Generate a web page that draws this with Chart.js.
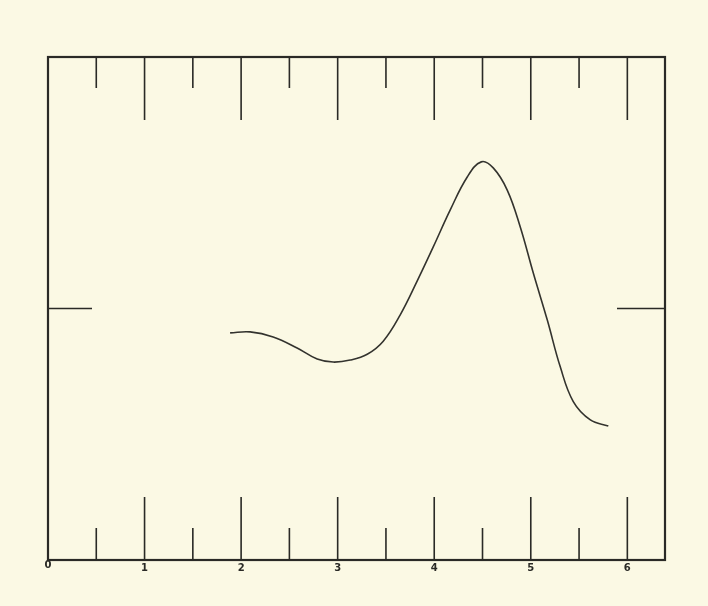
<!DOCTYPE html>
<html>
<head>
<meta charset="utf-8">
<script src="https://cdn.jsdelivr.net/npm/chart.js@4.4.1/dist/chart.umd.min.js"></script>
<style>
    html, body { margin: 0; padding: 0; background: #fbf9e4; }
    #wrap { width: 708px; height: 606px; position: relative; }
</style>
</head>
<body>
<div id="wrap"><canvas id="curveChart" width="708" height="606"></canvas></div>
<script>
// curve (x in axis units, y in half-heights of the box)
const curveX = [1.886, 2.093, 2.332, 2.580, 2.788, 2.953, 3.130, 3.306, 3.472, 3.648, 3.824,
    3.990, 4.166, 4.342, 4.487, 4.611, 4.756, 4.891, 5.026, 5.171, 5.306, 5.440, 5.617, 5.803];
const curveY = [0.903, 0.907, 0.887, 0.843, 0.799, 0.787, 0.795, 0.818, 0.870, 0.975, 1.110,
    1.245, 1.392, 1.523, 1.583, 1.559, 1.471, 1.324, 1.141, 0.954, 0.767, 0.630, 0.557, 0.533];

const xLabels = ['0', '1', '2', '3', '4', '5', '6'];
const xMajorTicks = [1, 2, 3, 4, 5, 6];
const xMinorTicks = [0.5, 1.5, 2.5, 3.5, 4.5, 5.5];
const yMidTicks = [1];

const ink = '#2a2a26';

// box, inward ticks and number labels
const framePlugin = {
    id: 'frame',
    afterDatasetsDraw(chart) {
        const ctx = chart.ctx;
        const area = chart.chartArea;
        const xs = chart.scales.x;
        const ys = chart.scales.y;

        ctx.save();
        ctx.strokeStyle = ink;
        ctx.lineCap = 'butt';

        ctx.lineWidth = 1.6;
        xMajorTicks.forEach(v => {
            const px = xs.getPixelForValue(v);
            ctx.beginPath();
            ctx.moveTo(px, area.top); ctx.lineTo(px, area.top + 63);
            ctx.moveTo(px, area.bottom); ctx.lineTo(px, area.bottom - 63);
            ctx.stroke();
        });
        xMinorTicks.forEach(v => {
            const px = xs.getPixelForValue(v);
            ctx.beginPath();
            ctx.moveTo(px, area.top); ctx.lineTo(px, area.top + 31);
            ctx.moveTo(px, area.bottom); ctx.lineTo(px, area.bottom - 32);
            ctx.stroke();
        });
        yMidTicks.forEach(v => {
            const py = ys.getPixelForValue(v);
            ctx.beginPath();
            ctx.moveTo(area.left, py); ctx.lineTo(area.left + 44, py);
            ctx.moveTo(area.right, py); ctx.lineTo(area.right - 48, py);
            ctx.stroke();
        });

        ctx.lineWidth = 2.2;
        ctx.strokeRect(area.left, area.top, area.right - area.left, area.bottom - area.top);

        ctx.fillStyle = ink;
        ctx.font = 'bold 10px "DejaVu Sans"';
        ctx.textAlign = 'center';
        ctx.textBaseline = 'middle';
        xLabels.forEach((lab, i) => {
            const px = xs.getPixelForValue(i);
            ctx.fillText(lab, px, area.bottom + (i === 0 ? 5 : 8));
        });
        ctx.restore();
    }
};

new Chart(document.getElementById('curveChart'), {
    type: 'scatter',
    data: {
        datasets: [{
            data: curveX.map((x, i) => ({ x: x, y: curveY[i] })),
            showLine: true,
            borderColor: '#33332e',
            borderWidth: 1.6,
            pointRadius: 0,
            tension: 0.4,
            fill: false
        }]
    },
    options: {
        responsive: false,
        animation: false,
        layout: { padding: { left: 48, right: 43, top: 57, bottom: 46 } },
        plugins: {
            legend: { display: false },
            tooltip: { enabled: false }
        },
        scales: {
            x: { type: 'linear', min: 0, max: 6.39, display: false },
            y: { type: 'linear', min: 0, max: 2, display: false }
        }
    },
    plugins: [framePlugin]
});
</script>
</body>
</html>
